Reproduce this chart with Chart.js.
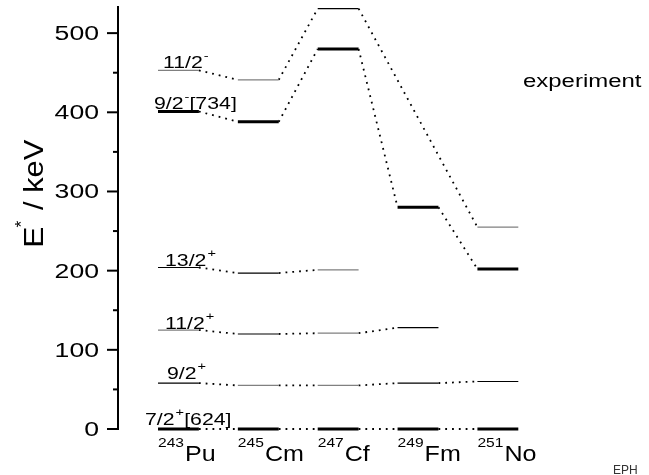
<!DOCTYPE html>
<html lang="en">
<head>
<meta charset="UTF-8">
<title>N=149 isotones - level systematics</title>
<script src="https://cdn.jsdelivr.net/npm/chart.js"></script>
<style>
  html, body { margin: 0; padding: 0; background: #fff; }
  canvas { display: block; }
</style>
</head>
<body>
<canvas id="levels" width="649" height="475"></canvas>
<script>
// isotones, left to right
const nuclei = ['Pu', 'Cm', 'Cf', 'Fm', 'No'];
const massNumbers = ['243', '245', '247', '249', '251'];

// level energies in keV (null = not seen)
const ground7p = [0, 0, 0, 0, 0];
const level9p = [58, 55, 55, 58, 60];
const level11p = [125, 120, 121, 128, null];
const level13p = [204, 197, 201, null, null];
const band9m = [401, 388, 480, 280, 202];
const level11m = [453, 441, 531, null, 255];

// how each level is drawn: t = thick bandhead, k = thin black, g = thin grey
const style7p = ['t', 't', 't', 't', 't'];
const style9p = ['k', 'g', 'g', 'k', 'k'];
const style11p = ['g', 'k', 'g', 'k', null];
const style13p = ['k', 'k', 'g', null, null];
const style9m = ['t', 't', 't', 't', 't'];
const style11m = ['g', 'g', 'k', null, 'g'];

// spin labels written next to the 243Pu levels
const spinMain = ['7/2', '9/2', '11/2', '13/2', '9/2', '11/2'];
const spinSign = ['+', '+', '+', '+', '-', '-'];
const spinTail = ['[624]', '', '', '', '[734]', ''];

const yTickLabels = [0, 100, 200, 300, 400, 500];

const bands = [ground7p, level9p, level11p, level13p, band9m, level11m];
const bandStyles = [style7p, style9p, style11p, style13p, style9m, style11m];

// layout bits (not data)
const HW = 0.256;                       // half width of a level bar, in x units
const labelDx = [-13, 9, 7, 7, -4, 5];  // px from left end of the 243Pu bar
const labelDy = [-4, -4, -1, -1, -3, -2];
const FONT = '"Liberation Sans", Arial, sans-serif';

function levelSegments(kind) {
  const pts = [];
  bands.forEach((vals, b) => vals.forEach((v, i) => {
    if (v === null || bandStyles[b][i] !== kind) return;
    pts.push({x: i - HW, y: v}, {x: i + HW, y: v}, {x: i, y: null});
  }));
  return pts;
}

function linkSegments() {
  const pts = [];
  bands.forEach(vals => {
    let prev = -1;
    vals.forEach((v, i) => {
      if (v === null) return;
      if (prev >= 0) pts.push({x: prev + HW, y: vals[prev]}, {x: i - HW, y: v}, {x: i, y: null});
      prev = i;
    });
  });
  return pts;
}

// the original export draws its type wide, sx stretches along the text
function wideText(ctx, str, x, y, size, align, sx) {
  sx = sx || 1.33;
  ctx.save();
  ctx.font = size + 'px ' + FONT;
  ctx.translate(x, y);
  ctx.scale(sx, 1);
  ctx.textAlign = align || 'left';
  ctx.textBaseline = 'alphabetic';
  ctx.fillText(str, 0, 0);
  const w = ctx.measureText(str).width * sx;
  ctx.restore();
  return w;
}

const decorations = {
  id: 'decorations',
  afterDraw(chart) {
    const ctx = chart.ctx;
    const xs = chart.scales.x, ys = chart.scales.y;
    const left = chart.chartArea.left;
    ctx.save();
    ctx.fillStyle = '#000';
    ctx.strokeStyle = '#000';

    // y ticks: long at labelled values, short in between
    ctx.lineWidth = 2;
    ys.ticks.forEach(t => {
      if (t.value % 50 !== 0) return;
      const y = ys.getPixelForValue(t.value);
      const len = yTickLabels.includes(t.value) ? 11 : 5;
      ctx.beginPath();
      ctx.moveTo(left - len, y);
      ctx.lineTo(left, y);
      ctx.stroke();
    });
    yTickLabels.forEach(v => {
      wideText(ctx, String(v), left - 19, ys.getPixelForValue(v) + 7, 20, 'right');
    });

    // y title, rotated: E* / keV
    ctx.save();
    ctx.translate(43, 248);
    ctx.rotate(-Math.PI / 2);
    let w = wideText(ctx, 'E', 0, 0, 28, 'left', 1.15);
    wideText(ctx, '*', w - 1, -16, 16, 'left', 1.1);
    w += 8;
    wideText(ctx, ' / keV', w, 0, 28, 'left', 1.1);
    ctx.restore();

    // nucleus names under the columns
    nuclei.forEach((el, i) => {
      const x = xs.getPixelForValue(i - HW);
      const ws = wideText(ctx, massNumbers[i], x, 447, 13, 'left', 1.2);
      wideText(ctx, el, x + ws + 1, 461, 22, 'left', 1.14);
    });

    // spin labels
    spinMain.forEach((s, k) => {
      const x = xs.getPixelForValue(-HW) + labelDx[k];
      const y = ys.getPixelForValue(bands[k][0]) + labelDy[k];
      const w1 = wideText(ctx, s, x, y, 16);
      const w2 = wideText(ctx, spinSign[k], x + w1 + 1, y - 9, 11);
      if (spinTail[k]) wideText(ctx, spinTail[k], x + w1 + w2 + 1, y, 16);
    });

    wideText(ctx, 'experiment', 523, 87, 18);
    ctx.fillStyle = '#333';
    ctx.font = '12px ' + FONT;
    ctx.fillText('EPH', 613, 474);
    ctx.restore();
  }
};

new Chart(document.getElementById('levels'), {
  type: 'line',
  data: {
    datasets: [
      { data: levelSegments('t'), borderColor: '#000', borderWidth: 3, order: 0 },
      { data: levelSegments('k'), borderColor: '#000', borderWidth: 1.2, order: 1 },
      { data: levelSegments('g'), borderColor: '#808080', borderWidth: 1.2, order: 2 },
      { data: linkSegments(), borderColor: '#000', borderWidth: 1.8, borderDash: [1.8, 5], order: 3 }
    ]
  },
  options: {
    responsive: false,
    animation: false,
    layout: { padding: { left: 0, right: 9, top: 7, bottom: 46 } },
    elements: {
      point: { radius: 0, hoverRadius: 0 },
      line: { tension: 0, fill: false, borderCapStyle: 'butt' }
    },
    datasets: { line: { spanGaps: false, clip: false } },
    plugins: { legend: { display: false }, tooltip: { enabled: false } },
    scales: {
      x: { type: 'linear', min: -0.757, max: 5.78, display: false },
      y: {
        min: 0, max: 533,
        ticks: { stepSize: 50, display: false },
        grid: { display: false },
        border: { display: true, color: '#000', width: 2 },
        afterFit(s) { s.width = 118; }
      }
    }
  },
  plugins: [decorations]
});
</script>
</body>
</html>
